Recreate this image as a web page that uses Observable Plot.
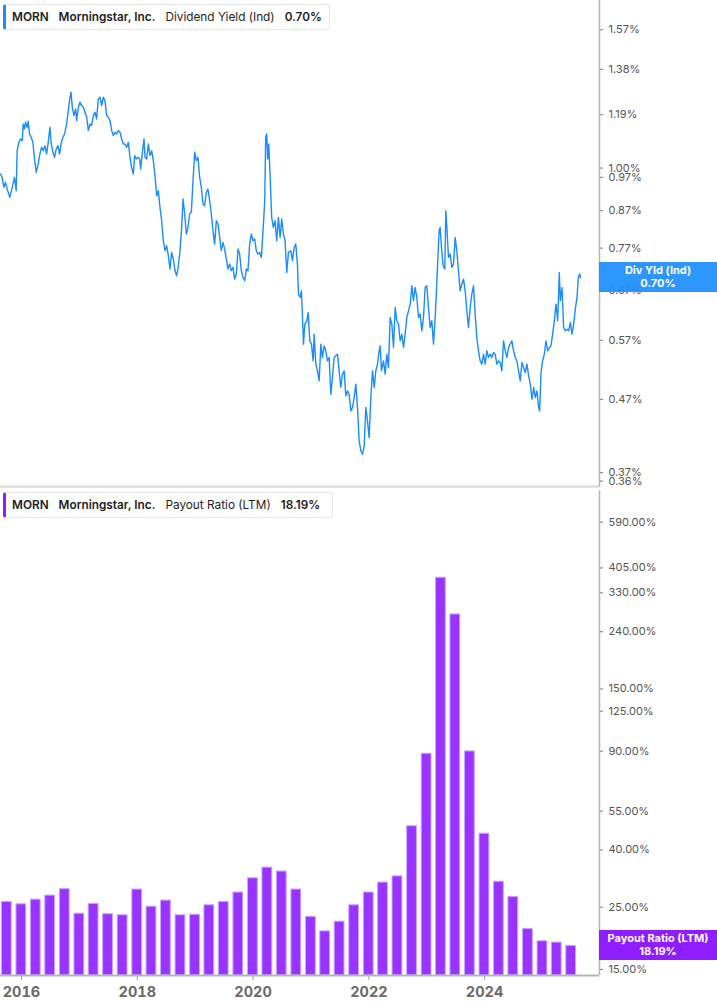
<!DOCTYPE html>
<html>
<head>
<meta charset="utf-8">
<script src="https://cdn.jsdelivr.net/npm/d3@7"></script>
<script src="https://cdn.jsdelivr.net/npm/@observablehq/plot@0.6"></script>
<style>
  html, body { margin: 0; padding: 0; background: #fff; }
  #wrap { position: relative; width: 717px; height: 1005px; overflow: hidden; font-family: Inter, "Noto Sans", sans-serif; }
  #topChart { position: absolute; left: 0; top: 0; }
  #botChart { position: absolute; left: 0; top: 487px; }
  .legend { position: absolute; left: 3px; height: 26px; background: #fff; border: 1px solid #e6e6e6; border-radius: 3px;
            box-sizing: border-box; display: flex; align-items: center; padding-left: 6px; font-size: 11.8px; color: #1d1d1d; white-space: nowrap; }
  .legend span { margin-right: 10px; }
  .legend b { font-weight: 600; margin-right: 10px; }
  .badge { position: absolute; left: 599px; width: 118px; height: 30px; color: #fff; font-weight: 700; font-size: 11px;
           line-height: 13px; text-align: center; display: flex; flex-direction: column; justify-content: center; }
  .sep { position: absolute; left: 0; top: 485px; width: 599px; height: 3px; background: #e2e2e2; }
  svg g[aria-label="x-axis tick label"] text { font-weight: 700; }
</style>
</head>
<body>
<div id="wrap">
  <div id="topChart"></div>
  <div id="botChart"></div>
  <div class="sep"></div>
  <div class="legend" style="top:4px;width:327px;border-left:3px solid #1a8cff;">
    <b>MORN</b><b>Morningstar, Inc.</b><span>Dividend Yield (Ind)</span><b>0.70%</b>
  </div>
  <div class="legend" style="top:492px;width:330px;border-left:3px solid #8f1dff;">
    <b>MORN</b><b>Morningstar, Inc.</b><span>Payout Ratio (LTM)</span><b>18.19%</b>
  </div>
  <div class="badge" style="top:262px;background:rgba(30,142,255,0.93);"><div>Div Yld (Ind)</div><div>0.70%</div></div>
  <div class="badge" style="top:930px;background:#8f1dff;"><div>Payout Ratio (LTM)</div><div>18.19%</div></div>
</div>
<script>
// ---- Dividend yield (%), decimal-year dates ----
const divYears = [
2015.637,2015.666,2015.695,2015.723,2015.752,2015.798,2015.839,2015.879,2015.908,2015.925,
2015.954,2015.983,2016.012,2016.029,2016.052,2016.069,2016.098,2016.115,2016.138,2016.167,
2016.196,2016.225,2016.254,2016.282,2016.317,2016.346,2016.375,2016.403,2016.432,2016.461,
2016.490,2016.513,2016.542,2016.570,2016.599,2016.628,2016.657,2016.686,2016.715,2016.743,
2016.778,2016.807,2016.836,2016.853,2016.876,2016.905,2016.934,2016.951,2016.980,2017.008,
2017.037,2017.066,2017.095,2017.124,2017.153,2017.181,2017.210,2017.239,2017.268,2017.296,
2017.325,2017.354,2017.383,2017.412,2017.440,2017.469,2017.498,2017.527,2017.556,2017.585,
2017.613,2017.642,2017.671,2017.700,2017.729,2017.757,2017.786,2017.815,2017.844,2017.873,
2017.901,2017.930,2017.953,2017.982,2018.011,2018.040,2018.057,2018.086,2018.115,2018.132,
2018.161,2018.190,2018.218,2018.247,2018.276,2018.305,2018.334,2018.362,2018.391,2018.420,
2018.449,2018.478,2018.507,2018.535,2018.564,2018.593,2018.622,2018.651,2018.679,2018.708,
2018.737,2018.766,2018.789,2018.818,2018.847,2018.875,2018.904,2018.933,2018.962,2018.991,
2019.019,2019.048,2019.077,2019.106,2019.135,2019.163,2019.192,2019.221,2019.250,2019.279,
2019.307,2019.336,2019.365,2019.394,2019.423,2019.451,2019.480,2019.509,2019.538,2019.567,
2019.596,2019.624,2019.653,2019.682,2019.711,2019.740,2019.768,2019.797,2019.826,2019.855,
2019.884,2019.912,2019.941,2019.970,2019.999,2020.028,2020.056,2020.085,2020.114,2020.143,
2020.172,2020.201,2020.218,2020.235,2020.252,2020.270,2020.293,2020.321,2020.350,2020.379,
2020.408,2020.437,2020.466,2020.494,2020.523,2020.552,2020.581,2020.610,
2020.650,2020.679,2020.708,2020.736,2020.765,2020.783,2020.811,2020.834,2020.852,2020.869,
2020.892,2020.927,2020.950,2020.978,2021.007,2021.036,2021.053,2021.082,2021.111,2021.140,
2021.169,2021.197,2021.226,2021.255,2021.284,2021.313,2021.341,2021.370,2021.399,2021.428,
2021.457,2021.485,2021.514,2021.543,2021.572,2021.601,2021.630,2021.658,2021.687,2021.716,
2021.745,2021.774,2021.802,2021.831,2021.860,2021.889,2021.918,2021.946,2021.975,2022.004,
2022.033,2022.062,2022.091,2022.119,2022.148,2022.177,2022.194,2022.217,2022.252,2022.281,
2022.309,2022.338,2022.367,2022.396,2022.425,2022.454,2022.482,2022.511,2022.540,2022.569,
2022.598,2022.626,2022.655,2022.684,2022.713,2022.742,2022.770,2022.799,2022.828,2022.857,
2022.886,2022.914,2022.943,2022.972,2023.001,2023.030,2023.058,2023.087,2023.116,2023.145,
2023.168,2023.185,2023.214,2023.231,2023.254,2023.283,2023.312,2023.329,2023.347,2023.375,
2023.404,2023.433,2023.462,2023.491,2023.519,2023.548,2023.577,2023.606,2023.635,2023.664,
2023.692,2023.721,2023.750,2023.779,2023.808,2023.836,2023.865,2023.894,2023.923,2023.952,
2023.980,2024.009,2024.038,2024.067,2024.096,2024.124,2024.153,2024.182,2024.211,2024.240,
2024.269,2024.297,2024.326,2024.355,2024.384,2024.413,2024.441,2024.470,2024.499,2024.528,
2024.557,2024.585,2024.614,2024.643,2024.672,2024.701,2024.730,2024.758,2024.787,2024.816,
2024.845,2024.874,2024.902,2024.931,2024.949,2024.972,2025.000,2025.029,2025.058,2025.087,
2025.116,2025.144,2025.173,2025.202,2025.231,2025.260,2025.288,2025.306,2025.334,2025.363,
2025.392,2025.421,2025.450,2025.479,2025.507,2025.536,2025.565,2025.594,2025.617,2025.640,
2025.657
];
const divYield = [
0.9807,0.9701,0.9389,0.9544,0.9338,0.9088,0.9389,0.9701,0.9288,1.0584,
1.0876,1.0995,1.0936,1.1548,1.1361,1.1611,1.1423,1.1649,1.1177,1.1055,
1.0876,1.0300,0.9861,1.0078,1.0469,1.0700,1.0584,1.0758,1.0469,1.0876,
1.1423,1.0817,1.0527,1.0356,1.0642,1.0758,1.0469,1.0876,1.1055,1.1177,
1.1548,1.2062,1.2599,1.2806,1.2194,1.1866,1.2128,1.1674,1.2194,1.2395,
1.2261,1.2194,1.1996,1.1802,1.1299,1.1548,1.1485,1.1866,1.1996,1.1738,
1.2531,1.2599,1.2261,1.2599,1.2463,1.1866,1.1802,1.1674,1.1299,1.1116,
1.1238,1.1177,1.1299,1.1238,1.0995,1.0817,1.0817,1.0700,1.0876,1.0356,
1.0023,0.9807,1.0413,1.0300,1.0356,1.0300,0.9969,1.0527,1.0995,1.0356,
1.0300,1.0817,1.0413,1.0584,1.0244,0.9754,0.9137,0.9288,0.8795,0.8421,
0.7888,0.7634,0.7760,0.7511,0.7191,0.7593,0.7429,0.7152,0.7036,0.7269,
0.7634,0.8239,0.9038,0.8606,0.8062,0.8239,0.8606,0.8653,0.9596,1.0527,
1.0244,1.0356,0.9701,0.9389,0.8892,0.8843,0.9237,0.9338,0.8989,0.8606,
0.8150,0.7802,0.8421,0.8329,0.7974,0.7634,0.7845,0.7676,0.7429,0.7191,
0.7309,0.7152,0.7230,0.6960,0.7074,0.7676,0.7552,0.7152,0.6998,0.6922,
0.7191,0.7152,0.7802,0.8062,0.7888,0.7931,0.7634,0.7552,0.7593,0.7470,
0.8150,0.8989,1.1055,1.1177,1.0300,1.0817,0.9807,0.8513,0.8239,0.8421,
0.7888,0.8513,0.7974,0.8466,0.8062,0.7888,0.7113,0.7593,
0.7634,0.7389,0.7718,0.7802,0.7309,0.6627,0.6555,0.6699,0.6140,0.5628,
0.6008,0.6074,0.6241,0.5689,0.5628,0.5330,0.5815,0.5272,0.5158,0.4993,
0.5628,0.5388,0.5597,0.5507,0.5330,0.5388,0.4780,0.5047,0.5388,0.5417,
0.5447,0.5158,0.4885,0.5103,0.5158,0.4754,0.4832,0.4780,0.4526,0.4576,
0.4728,0.4939,0.4576,0.4104,0.3972,0.3929,0.4037,0.4576,0.4381,0.4149,
0.4728,0.5158,0.4885,0.5158,0.5272,0.5507,0.5597,0.5158,0.5330,0.5103,
0.5447,0.5215,0.6140,0.6008,0.5567,0.6344,0.6074,0.6008,0.5689,0.5815,
0.5567,0.5815,0.6140,0.6275,0.6413,0.6809,0.6484,0.6772,0.6555,0.6140,
0.6207,0.5878,0.6140,0.6772,0.6809,0.6344,0.5943,0.6074,0.5628,0.6140,
0.6699,0.7230,0.8150,0.8239,0.7718,0.7269,0.7190,0.8700,0.8239,0.7470,
0.7552,0.7230,0.7309,0.7974,0.7634,0.7151,0.6699,0.6847,0.6959,0.6699,
0.6275,0.5943,0.6344,0.6627,0.6809,0.6207,0.5752,0.5507,0.5330,0.5272,
0.5447,0.5272,0.5507,0.5388,0.5447,0.5388,0.5477,0.5447,0.5272,0.5330,
0.5301,0.5158,0.5689,0.5507,0.5388,0.5567,0.5628,0.5689,0.5507,0.5388,
0.5330,0.5158,0.4993,0.5301,0.5215,0.5130,0.5272,0.5075,0.4939,0.4702,
0.4885,0.4728,0.4832,0.4576,0.4526,0.5130,0.5330,0.5447,0.5689,0.5507,
0.5567,0.5597,0.5815,0.6074,0.6413,0.6074,0.7112,0.6484,0.6772,0.5943,
0.5878,0.5911,0.5878,0.6041,0.5815,0.6008,0.6310,0.6555,0.6997,0.7074,
0.6997
];
const divTicks = [1.57, 1.38, 1.19, 1.00, 0.97, 0.87, 0.77, 0.67, 0.57, 0.47, 0.37, 0.36];

// ---- Payout ratio (LTM, %), quarterly ----
const payoutQuarters = [
"2015-09-30","2015-12-31","2016-03-31","2016-06-30","2016-09-30","2016-12-31","2017-03-31","2017-06-30",
"2017-09-30","2017-12-31","2018-03-31","2018-06-30","2018-09-30","2018-12-31","2019-03-31","2019-06-30",
"2019-09-30","2019-12-31","2020-03-31","2020-06-30","2020-09-30","2020-12-31","2021-03-31","2021-06-30",
"2021-09-30","2021-12-31","2022-03-31","2022-06-30","2022-09-30","2022-12-31","2023-03-31","2023-06-30",
"2023-09-30","2023-12-31","2024-03-31","2024-06-30","2024-09-30","2024-12-31","2025-03-31","2025-06-30"
];
const payoutRatio = [
26.1, 25.6, 26.6, 27.5, 29.0, 23.7, 25.7, 23.6, 23.4, 28.9,
25.1, 26.4, 23.4, 23.5, 25.4, 26.1, 28.2, 31.7, 34.6, 33.5,
28.9, 23.1, 20.5, 22.2, 25.4, 28.2, 30.6, 32.2, 48.6, 88.1,
373.8, 276.5, 89.8, 45.7, 30.8, 27.2, 20.9, 18.9, 18.7, 18.19
];
const payTicks = [590, 405, 330, 240, 150, 125, 90, 55, 40, 25, 15];
const yearTicks = [2016, 2018, 2020, 2022, 2024];

// ---- helpers ----
function yearToDate(t) {
  const y = Math.floor(t);
  const a = Date.UTC(y, 0, 1), b = Date.UTC(y + 1, 0, 1);
  return new Date(a + (t - y) * (b - a));
}
const xDomain = [yearToDate(2015.637), yearToDate(2025.983)];
const divData = divYears.map((t, i) => ({date: yearToDate(t), v: divYield[i]}));
const payData = payoutQuarters.map((q, i) => {
  const d = new Date(q + "T00:00:00Z");
  return {date: d, x1: d3.utcDay.offset(d, -31), x2: d3.utcDay.offset(d, 31), v: payoutRatio[i]};
});
const divDomain = [0.3525, 1.7278];
const payDomain = [14.27, 765];
const pct = d => (+d).toFixed(2) + "%";
const font = "Inter, 'Noto Sans', sans-serif";
const noLabel = () => "";

const topPlot = Plot.plot({
  width: 717, height: 487,
  marginLeft: 0, marginRight: 118, marginTop: 0, marginBottom: 0,
  style: {fontFamily: font, fontSize: "11px", color: "#555", background: "transparent"},
  x: {type: "utc", domain: xDomain, axis: null},
  y: {type: "log", domain: divDomain, axis: null},
  marks: [
    Plot.axisY({anchor: "right", ticks: divTicks, tickFormat: noLabel, tickSize: 3, stroke: "#777", label: null}),
    Plot.text(divTicks, {y: d => d, x: () => xDomain[1], text: pct, textAnchor: "start", dx: 9, fill: "#555", fontSize: 11}),
    Plot.ruleX([xDomain[1]], {stroke: "#b5b5b5", strokeWidth: 1.5}),
    Plot.line(divData, {x: "date", y: "v", stroke: "#1a8cff", strokeWidth: 1.4, strokeLinejoin: "round"})
  ]
});
document.getElementById("topChart").append(topPlot);

const botPlot = Plot.plot({
  width: 717, height: 518,
  marginLeft: 0, marginRight: 118, marginTop: 3, marginBottom: 30,
  style: {fontFamily: font, fontSize: "11px", color: "#555", background: "transparent"},
  x: {type: "utc", domain: xDomain, axis: null},
  y: {type: "log", domain: payDomain, axis: null},
  marks: [
    Plot.rect(payData, {x1: "x1", x2: "x2", y1: () => payDomain[0], y2: "v", fill: "#9933ff", stroke: "#cda4ff", strokeWidth: 1}),
    Plot.axisY({anchor: "right", ticks: payTicks, tickFormat: noLabel, tickSize: 3, stroke: "#777", label: null}),
    Plot.text(payTicks, {y: d => d, x: () => xDomain[1], text: pct, textAnchor: "start", dx: 9, fill: "#555", fontSize: 11}),
    Plot.axisX({anchor: "bottom", ticks: yearTicks.map(y => new Date(Date.UTC(y, 0, 1))), tickFormat: d3.utcFormat("%Y"),
                tickSize: 5, tickPadding: 6, fontSize: 14.5, fill: "#6a6a6a", stroke: "#999", label: null}),
    Plot.ruleX([xDomain[1]], {stroke: "#b5b5b5", strokeWidth: 1.5}),
    Plot.ruleY([payDomain[0]], {x1: xDomain[0], x2: xDomain[1], stroke: "#b5b5b5", strokeWidth: 2})
  ]
});
document.getElementById("botChart").append(botPlot);
</script>
</body>
</html>
